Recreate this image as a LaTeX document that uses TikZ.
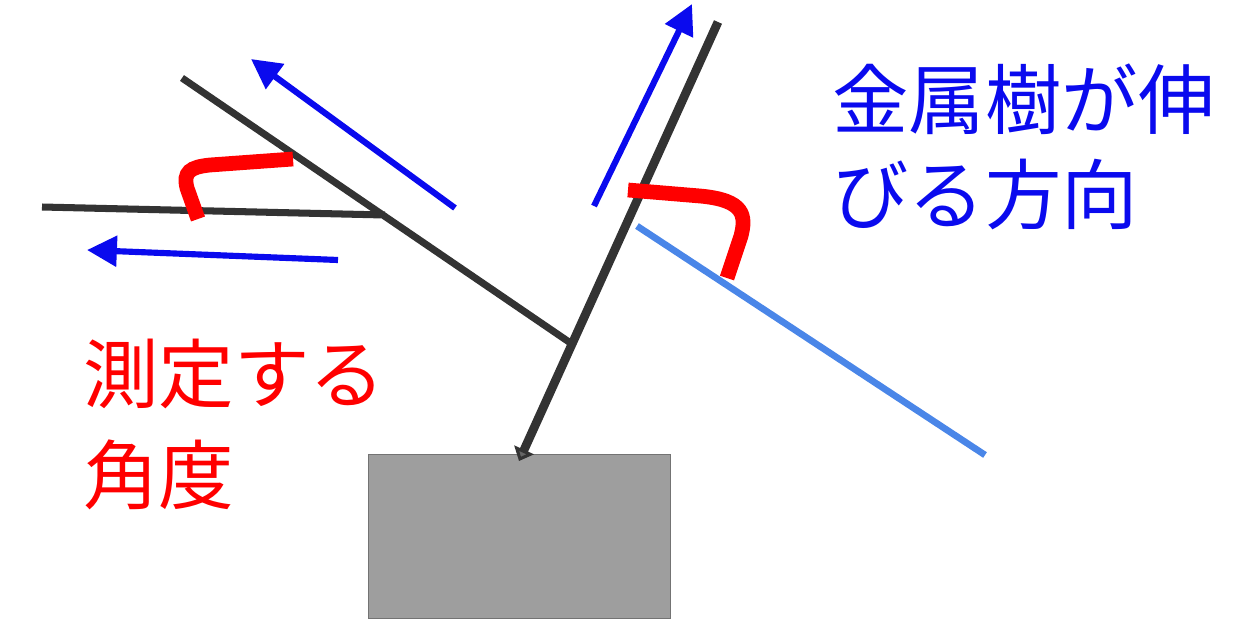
\documentclass[tikz,border=0pt]{standalone}
\usepackage{fontspec}
\newfontfamily\jpfont{Noto Sans CJK JP}
\usetikzlibrary{arrows.meta}

\definecolor{treegray}{HTML}{333333}
\definecolor{growblue}{HTML}{0A0AEE}
\definecolor{refblue}{HTML}{4A86E8}
\definecolor{boxgray}{HTML}{9E9E9E}

\tikzset{
 tree/.style={treegray,line width=4pt},
 growarrow/.style={growblue,line width=3.5pt,-{Triangle[length=17pt,width=17pt]}},
 angmark/.style={red,line width=8.4pt},
 refline/.style={refblue,line width=3.8pt},
}

\begin{document}
\begin{tikzpicture}[x=0.02cm,y=-0.02cm]
 \useasboundingbox (0,0) rectangle (1260,629);
 % substrate
 \node[draw=black!55,line width=1.1pt,fill=boxgray,minimum width=302*0.02cm,
  minimum height=164*0.02cm,inner sep=0pt] (plate) at (519.5,536.5) {};
 % branches
 \coordinate (top) at (718,22);
 \coordinate (foot) at (519,461);
 \coordinate (fork) at (572,344);
 \coordinate (brtip) at (182,78);
 \coordinate (knot) at (385,215);
 \coordinate (subtip) at (42,207);
 \draw[tree,line width=5pt,-{Triangle[length=7pt,width=12pt,fill=black!60]}] (top)--(foot);
 \draw[tree] (fork)--(brtip) (knot)--(subtip);
 % reference direction
 \coordinate (ra) at (637,226); \coordinate (rb) at (985,455);
 \draw[refline] (ra)--(rb);
 % growth directions
 \coordinate (g1a) at (455,208); \coordinate (g1b) at (251,59);
 \coordinate (g2a) at (338,260); \coordinate (g2b) at (87,250);
 \coordinate (g3a) at (594,206); \coordinate (g3b) at (692,4);
 \foreach \a/\b in {g1a/g1b,g2a/g2b,g3a/g3b}{\draw[growarrow] (\a)--(\b);}
 % angles
 \draw[angmark] (198,219)--(187,188) .. controls (183,172) and (190,167) .. (210,165)--(293,159);
 \draw[angmark] (628,190)--(700,196) .. controls (745,200) and (746,216) .. (741,236)--(727,278);
 % labels
 \node[anchor=base west,inner sep=0pt,align=left,text=growblue,
  font=\jpfont\fontsize{43.5}{54}\selectfont] (growtxt) at (832,223) {金属樹が伸\\びる方向};
 \node[anchor=base west,inner sep=0pt,align=left,text=red,
  font=\jpfont\fontsize{43}{57}\selectfont] (angtxt) at (83,503) {測定する\\角度};
\end{tikzpicture}
\end{document}
